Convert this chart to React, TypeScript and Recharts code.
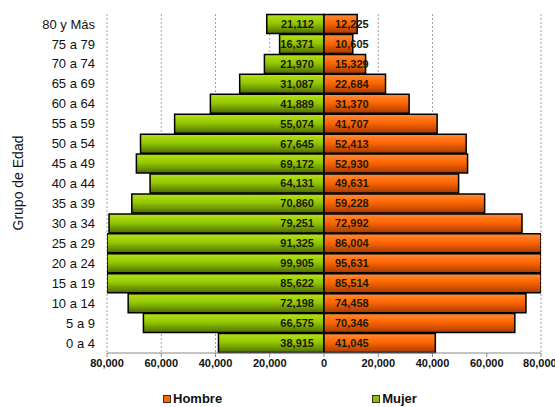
import { Bar, BarChart, CartesianGrid, LabelList, Legend, XAxis, YAxis } from 'recharts';

const ageGroups = [
  '80 y Más', '75 a 79', '70 a 74', '65 a 69', '60 a 64', '55 a 59', '50 a 54', '45 a 49', '40 a 44',
  '35 a 39', '30 a 34', '25 a 29', '20 a 24', '15 a 19', '10 a 14', '5 a 9', '0 a 4',
];
const mujer = [
  21112, 16371, 21970, 31087, 41889, 55074, 67645, 69172, 64131,
  70860, 79251, 91325, 99905, 85622, 72198, 66575, 38915,
];
const hombre = [
  12225, 10605, 15329, 22684, 31370, 41707, 52413, 52930, 49631,
  59228, 72992, 86004, 95631, 85514, 74458, 70346, 41045,
];
const xTicks = [-80000, -60000, -40000, -20000, 0, 20000, 40000, 60000, 80000];

const FONT = 'Arial, "Liberation Sans", sans-serif';
const ORANGE = '#ff6600';
const GREEN = '#8cc000';

// women drawn to the left as negatives, labels show the real count
const data = ageGroups.map((g, i) => ({ grupo: g, Mujer: -mujer[i], Hombre: hombre[i] }));

const fmt = (v: number) => Math.abs(v).toLocaleString('en-US');

function BarValue(props: any, side: 'left' | 'right') {
  const { x, y, width, height, value } = props;
  const left = Math.min(x, x + width);
  const right = Math.max(x, x + width);
  const tx = side === 'left' ? right - 10 : left + 11;
  return (
    <text
      x={tx}
      y={y + height / 2}
      dy="0.36em"
      textAnchor={side === 'left' ? 'end' : 'start'}
      fontFamily={FONT}
      fontSize={11}
      fontWeight="bold"
      fill="#1a1a0a"
    >
      {fmt(value)}
    </text>
  );
}

function LegendBox() {
  const items = [
    { name: 'Hombre', color: ORANGE },
    { name: 'Mujer', color: GREEN },
  ];
  return (
    <div style={{ display: 'flex', gap: 150, marginLeft: 163, marginTop: 6, fontFamily: FONT, fontSize: 13, fontWeight: 'bold', color: '#111' }}>
      {items.map((it) => (
        <div key={it.name} style={{ display: 'flex', alignItems: 'center', gap: 2 }}>
          <span style={{ width: 6, height: 6, background: it.color, border: '1px solid #333', display: 'inline-block' }} />
          <span>{it.name}</span>
        </div>
      ))}
    </div>
  );
}

export default function App() {
  return (
    <div style={{ position: 'absolute', left: 0, top: 0, width: 555, height: 407, background: '#fff' }}>
      <BarChart
        width={555}
        height={407}
        data={data}
        layout="vertical"
        stackOffset="sign"
        barCategoryGap={0.5}
        margin={{ top: 14, right: 14, bottom: 0, left: 0 }}
      >
        <defs>
          <linearGradient id="gMujer" x1="0" y1="0" x2="0" y2="1">
            <stop offset="0%" stopColor="#b5e21a" />
            <stop offset="45%" stopColor="#94c800" />
            <stop offset="100%" stopColor="#4d6e00" />
          </linearGradient>
          <linearGradient id="gHombre" x1="0" y1="0" x2="0" y2="1">
            <stop offset="0%" stopColor="#ff8a3a" />
            <stop offset="45%" stopColor="#ff6600" />
            <stop offset="100%" stopColor="#a83a00" />
          </linearGradient>
        </defs>
        <CartesianGrid horizontal={false} stroke="#a0a0a0" strokeDasharray="2 2" />
        <XAxis
          type="number"
          domain={[-80000, 80000]}
          ticks={xTicks}
          allowDataOverflow
          tickFormatter={fmt}
          height={32}
          axisLine={{ stroke: '#888' }}
          tickLine={{ stroke: '#888' }}
          tickSize={4}
          tick={{ fontFamily: FONT, fontSize: 11, fontWeight: 'bold', fill: '#111' }}
        />
        <YAxis
          type="category"
          dataKey="grupo"
          width={107}
          axisLine={false}
          tickLine={false}
          tickSize={0}
          tickMargin={12}
          interval={0}
          tick={{ fontFamily: FONT, fontSize: 13, fill: '#111' }}
          label={{
            content: () => (
              <text x={18} y={183} transform="rotate(-90 18 183)" textAnchor="middle" dy="0.36em" fontFamily={FONT} fontSize={14} fill="#111">
                Grupo de Edad
              </text>
            ),
          }}
        />
        <Legend verticalAlign="bottom" height={22} wrapperStyle={{ left: 0, width: 555 }} content={() => <LegendBox />} />
        <Bar dataKey="Mujer" stackId="p" fill="url(#gMujer)" stroke="#000" strokeWidth={1.5} isAnimationActive={false}>
          <LabelList dataKey="Mujer" content={(p: any) => BarValue(p, 'left')} />
        </Bar>
        <Bar dataKey="Hombre" stackId="p" fill="url(#gHombre)" stroke="#000" strokeWidth={1.5} isAnimationActive={false}>
          <LabelList dataKey="Hombre" content={(p: any) => BarValue(p, 'right')} />
        </Bar>
      </BarChart>
    </div>
  );
}
